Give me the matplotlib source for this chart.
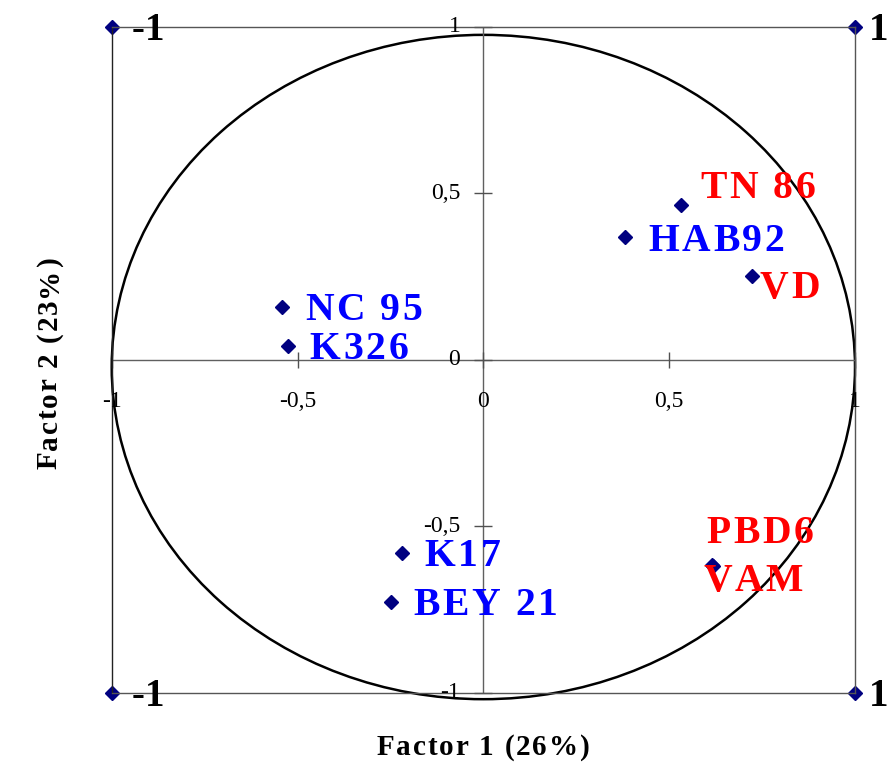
import matplotlib
matplotlib.use('Agg')
import matplotlib.pyplot as plt
from matplotlib.patches import Ellipse
from matplotlib.font_manager import FontProperties
from matplotlib.textpath import TextToPath

# varieties on the first two factors
names = ['TN 86', 'HAB92', 'VD', 'NC 95', 'K326', 'K17', 'BEY 21', 'PBD6', 'VAM']
f1 = [0.532, 0.382, 0.722, -0.542, -0.526, -0.220, -0.248, 0.614, 0.618]
f2 = [0.465, 0.367, 0.250, 0.159, 0.042, -0.581, -0.727, -0.617, -0.620]
groups = ['r', 'b', 'r', 'b', 'b', 'b', 'b', 'r', 'r']

# corner points of the unit square
corner_x = [-1, 1, -1, 1]
corner_y = [1, 1, -1, -1]
corner_lab = ['-1', '1', '-1', '1']

ticks = [-1, -0.5, 0, 0.5, 1]
tick_lab = ['-1', '-0,5', '0', '0,5', '1']

# label offsets in pixels (dx right, dy up, to the middle of the caps)
lab_off = [(19, 20), (23, 0), (8, -8), (23, 0), (22, 0), (23, 0), (22, 0), (-5, 35), (-10, -12)]
corner_off = [(20, 0), (14, 0), (20, 0), (14, 0)]
col = {'r': '#ff0000', 'b': '#0000ff'}

PX = 0.72  # points per pixel at 100 dpi
t2p = TextToPath()


def tracked(ax, xy, s, off_px, size, color, track_px=0.0, rot=0, center=False,
            xycoords='data'):
    """Bold serif text with extra letter spacing, drawn char by char."""
    fp = FontProperties(family='Liberation Serif', weight='bold', size=size)
    widths = [t2p.get_text_width_height_descent(ch, fp, ismath=False)[0] for ch in s]
    track = track_px * PX
    total = sum(widths) + track * (len(s) - 1)
    pos = -total / 2 if center else 0.0
    half_cap = 0.33 * size
    for ch, w in zip(s, widths):
        if rot == 90:
            off = (off_px[0] * PX + half_cap, off_px[1] * PX + pos)
        else:
            off = (off_px[0] * PX + pos, off_px[1] * PX - half_cap)
        ax.annotate(ch, xy, xycoords=xycoords, xytext=off, textcoords='offset points',
                    ha='left', va='baseline', rotation=rot, rotation_mode='anchor',
                    fontproperties=fp, color=color, annotation_clip=False)
        pos += w + track


fig = plt.figure(figsize=(8.89, 7.63), dpi=100)
W, H = 889, 763
ax = fig.add_axes([111.7 / W, (H - 692.7) / H, (855 - 111.7) / W, (692.7 - 26.7) / H])
ax.set_xlim(-1, 1)
ax.set_ylim(-1, 1)
ax.set_xticks([])
ax.set_yticks([])
for sp in ax.spines.values():
    sp.set_color('#555555')
    sp.set_linewidth(1)
ax.spines['left'].set_color('#222222')

# axes through the origin with cross ticks
ax.axhline(0, color='#606060', lw=1)
ax.axvline(0, color='#606060', lw=1)
ax.plot(ticks, [0] * len(ticks), ls='none', marker='|', ms=12, mew=1, color='#505050',
        clip_on=False)
ax.plot([0] * len(ticks), ticks, ls='none', marker='_', ms=13, mew=1, color='#505050',
        clip_on=False)

tick_font = dict(family='Liberation Serif', size=17, color='black')
for t, lab in zip(ticks, tick_lab):
    ax.annotate(lab, (t, 0), xytext=(0, -42 * PX), textcoords='offset points',
                ha='center', va='center', annotation_clip=False, **tick_font)
    ax.annotate(lab, (0, t), xytext=(-23 * PX, 0), textcoords='offset points',
                ha='right', va='center', annotation_clip=False, **tick_font)

# correlation circle
ax.add_patch(Ellipse((0, -0.022), 2.0, 1.995, fill=False, lw=1.8, color='black',
                     clip_on=False))

ax.plot(corner_x, corner_y, ls='none', marker='D', ms=7, color='#000080', clip_on=False)
for x, y, lab, off in zip(corner_x, corner_y, corner_lab, corner_off):
    tracked(ax, (x, y), lab, off, 28, 'black')

ax.plot(f1, f2, ls='none', marker='D', ms=7, color='#000080', clip_on=False)
for x, y, name, g, off in zip(f1, f2, names, groups, lab_off):
    tracked(ax, (x, y), name, off, 28.5, col[g], track_px=2.7)

tracked(ax, (483 / W, 1 - 745 / H), 'Factor 1 (26%)', (0, 0), 21, 'black',
        track_px=1.8, center=True, xycoords='figure fraction')
tracked(ax, (47 / W, 1 - 363 / H), 'Factor 2 (23%)', (0, 0), 21, 'black',
        track_px=1.8, rot=90, center=True, xycoords='figure fraction')

fig.savefig('out.png', dpi=100)
